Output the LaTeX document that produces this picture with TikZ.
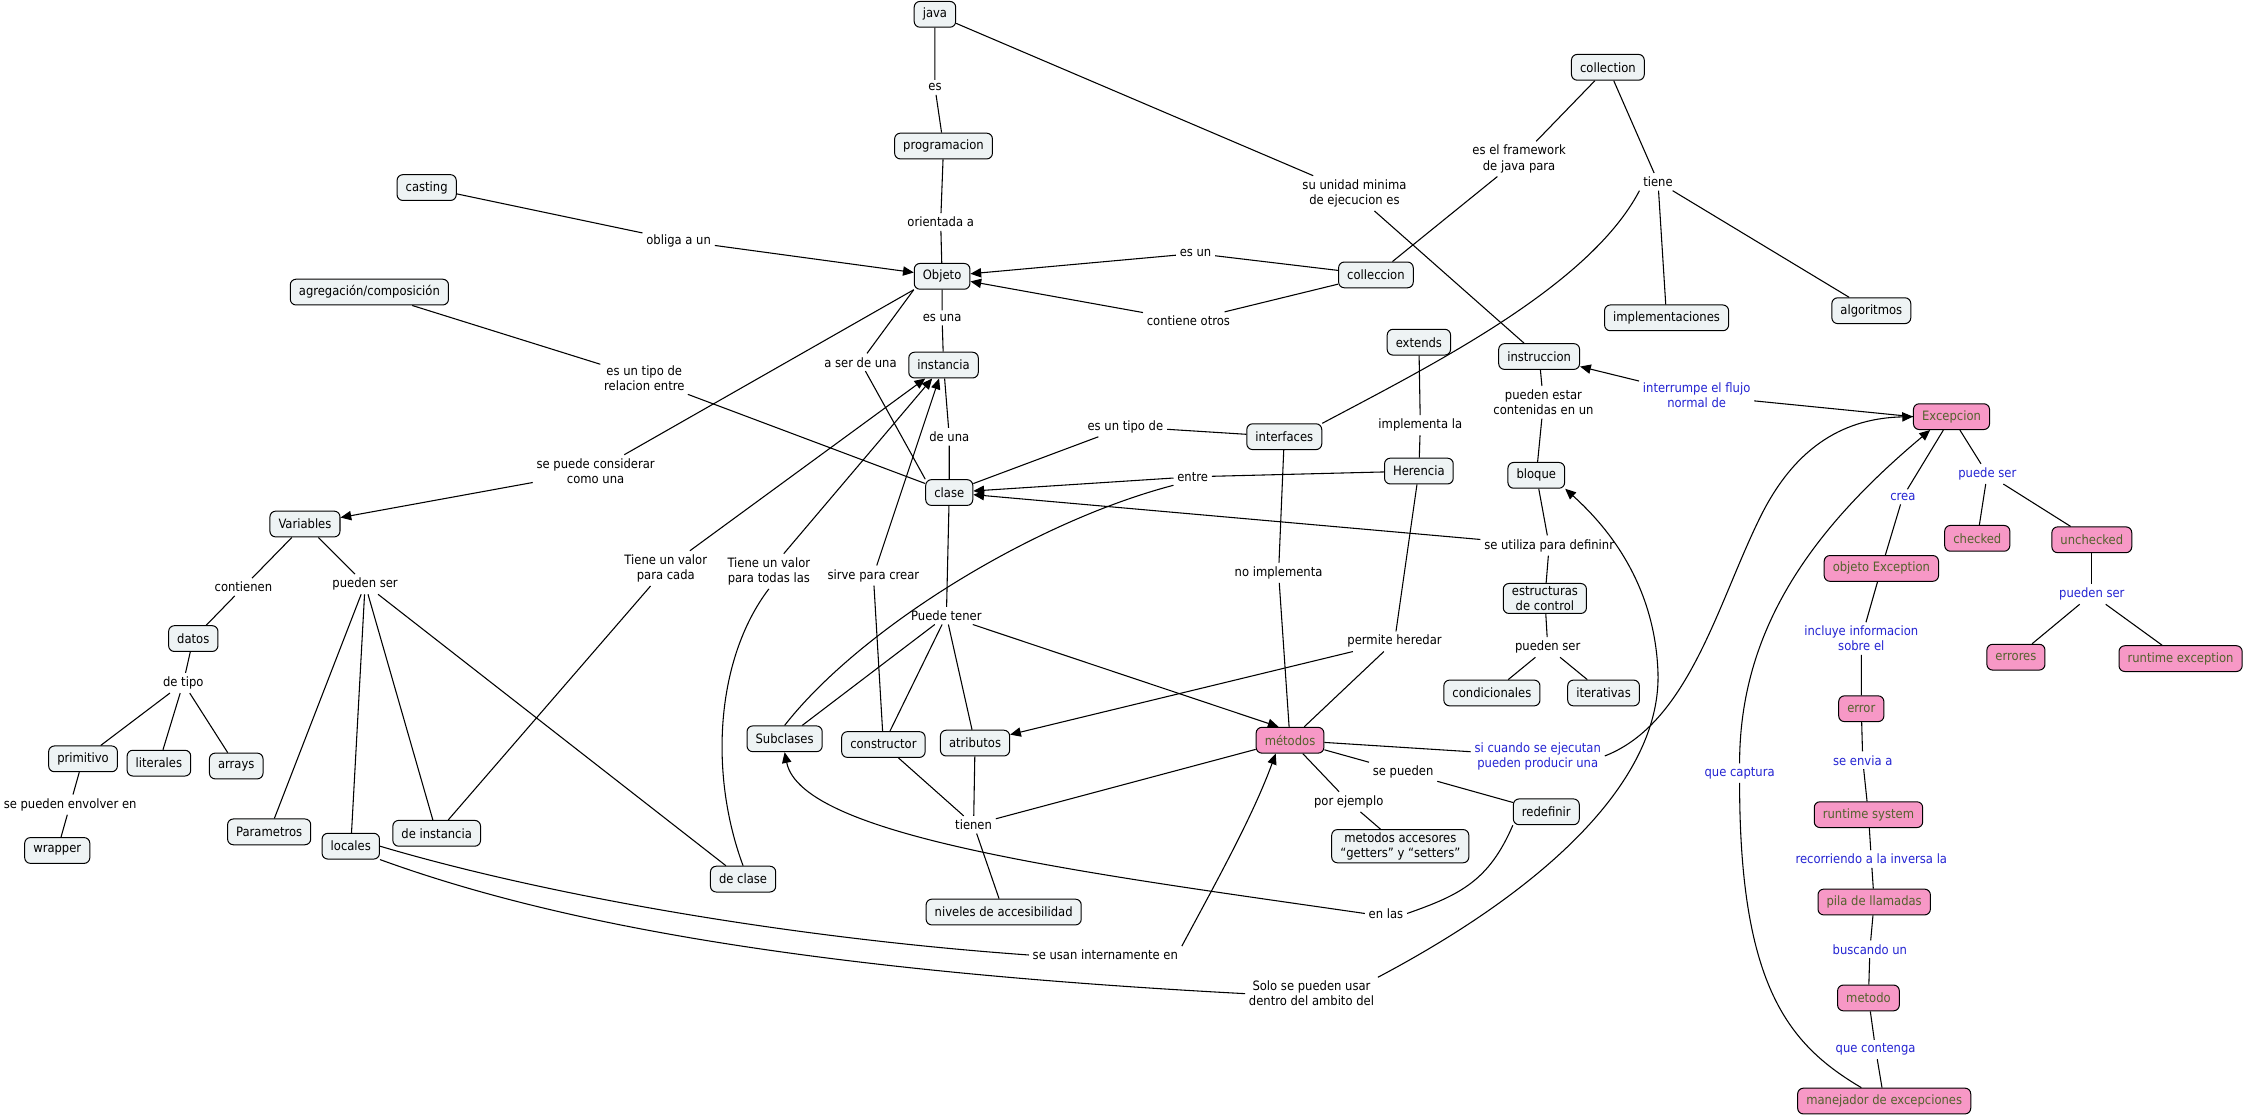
\documentclass[tikz,border=0pt]{standalone}
\usepackage{fontspec}
\setmainfont{DejaVu Sans Condensed}
\usetikzlibrary{arrows.meta}
\definecolor{cfill}{RGB}{238,243,244}
\definecolor{pfill}{RGB}{247,152,198}
\definecolor{ptext}{RGB}{84,98,46}
\definecolor{lblue}{RGB}{36,36,210}
\begin{document}
\begin{tikzpicture}[x=1pt,y=-1pt,
  font=\fontsize{9}{10.5}\selectfont,
  concept/.style={draw=black, line width=0.7pt, rounded corners=4pt, fill=cfill, inner xsep=6pt, inner ysep=2pt, minimum height=18pt, align=center},
  pconcept/.style={concept, fill=pfill, text=ptext},
  lp/.style={inner sep=2.5pt, align=center},
  lpb/.style={lp, text=lblue},
  conn/.style={draw=black, line width=0.75pt},
  arr/.style={conn, -{Triangle[length=7.5pt,width=6.5pt]}}]
\fill[white] (0,0) rectangle (1568,780);
\useasboundingbox (0,0) rectangle (1568,780);

% concepts
\node[concept] (java) at (653,10) {java};
\node[concept] (programacion) at (659,102) {programacion};
\node[concept] (casting) at (298,131) {casting};
\node[concept] (collection) at (1123,47) {collection};
\node[concept] (Objeto) at (658,193) {Objeto};
\node[concept] (colleccion) at (961,192) {colleccion};
\node[concept] (agregacion) at (258,204) {agregación/composición};
\node[concept] (implementaciones) at (1164,222) {implementaciones};
\node[concept] (algoritmos) at (1307,217) {algoritmos};
\node[concept] (extends) at (991,239) {extends};
\node[concept] (instruccion) at (1075,249) {instruccion};
\node[concept] (instancia) at (659,255) {instancia};
\node[concept] (interfaces) at (897,305) {interfaces};
\node[concept] (Herencia) at (991,329) {Herencia};
\node[concept] (bloque) at (1073,332) {bloque};
\node[concept] (clase) at (663,344) {clase};
\node[concept] (Variables) at (213,366) {Variables};
\node[concept] (estructuras) at (1079,418) {estructuras\\de control};
\node[concept] (condicionales) at (1042,484) {condicionales};
\node[concept] (iterativas) at (1120,484) {iterativas};
\node[concept] (datos) at (135,446) {datos};
\node[concept] (primitivo) at (58,530) {primitivo};
\node[concept] (literales) at (111,533) {literales};
\node[concept] (arrays) at (165,535) {arrays};
\node[concept] (Subclases) at (548,516) {Subclases};
\node[concept] (constructor) at (617,520) {constructor};
\node[concept] (atributos) at (681,519) {atributos};
\node[pconcept] (metodos) at (901,517) {métodos};
\node[concept] (wrapper) at (40,594) {wrapper};
\node[concept] (Parametros) at (188,581) {Parametros};
\node[concept] (locales) at (245,591) {locales};
\node[concept] (deinstancia) at (305,582) {de instancia};
\node[concept] (declase) at (519,614) {de clase};
\node[concept] (niveles) at (701,637) {niveles de accesibilidad};
\node[concept] (accesores) at (978,591) {metodos accesores\\“getters” y “setters”};
\node[concept] (redefinir) at (1080,567) {redefinir};
\node[pconcept] (Excepcion) at (1363,291) {Excepcion};
\node[pconcept] (checked) at (1381,376) {checked};
\node[pconcept] (unchecked) at (1461,377) {unchecked};
\node[pconcept] (objetoExc) at (1314,397) {objeto Exception};
\node[pconcept] (errores) at (1408,459) {errores};
\node[pconcept] (runtimeexc) at (1523,460) {runtime exception};
\node[pconcept] (error) at (1300,495) {error};
\node[pconcept] (runtime) at (1305,569) {runtime system};
\node[pconcept] (pila) at (1309,630) {pila de llamadas};
\node[pconcept] (metodo) at (1305,697) {metodo};
\node[pconcept] (manejador) at (1316,769) {manejador de excepciones};

% linking phrases
\node[lp] (l_es) at (653,61) {es};
\node[lp] (l_orient) at (657,155) {orientada a};
\node[lp] (l_obliga) at (474,168) {obliga a un};
\node[lp] (l_esun) at (835,177) {es un};
\node[lp] (l_contiene) at (830,224) {contiene otros};
\node[lp] (l_unidad) at (946,135) {su unidad minima\\de ejecucion es};
\node[lp] (l_frame) at (1061,111) {es el framework\\de java para};
\node[lp] (l_tiene) at (1158,127) {tiene};
\node[lp] (l_esuna) at (658,222) {es una};
\node[lp] (l_aser) at (601,253) {a ser de una};
\node[lp] (l_tiporel) at (450,264) {es un tipo de\\relacion entre};
\node[lp] (l_considerar) at (416,329) {se puede considerar\\como una};
\node[lp] (l_deuna) at (663,305) {de una};
\node[lp] (l_tipode) at (786,298) {es un tipo de};
\node[lp] (l_implementa) at (992,297) {implementa la};
\node[lp] (l_contenidas) at (1078,281) {pueden estar\\contenidas en un};
\node[lpb] (l_interrumpe) at (1185,276) {interrumpe el flujo\\normal de};
\node[lp] (l_entre) at (833,333) {entre};
\node[lp] (l_utiliza) at (1082,381) {se utiliza para defininr};
\node[lp] (l_noimpl) at (893,400) {no implementa};
\node[lp] (l_cada) at (465,397) {Tiene un valor\\para cada};
\node[lp] (l_todas) at (537,399) {Tiene un valor\\para todas las};
\node[lp] (l_sirve) at (610,402) {sirve para crear};
\node[lp] (l_contienen) at (170,410) {contienen};
\node[lp] (l_puedenser1) at (255,408) {pueden ser};
\node[lp] (l_puede) at (661,430) {Puede tener};
\node[lp] (l_hereda) at (974,448) {permite heredar};
\node[lp] (l_puedenser2) at (1081,452) {pueden ser};
\node[lp] (l_detipo) at (128,477) {de tipo};
\node[lpb] (l_puedeser) at (1388,331) {puede ser};
\node[lpb] (l_crea) at (1329,347) {crea};
\node[lpb] (l_incluye) at (1300,446) {incluye informacion\\sobre el};
\node[lpb] (l_puedenser3) at (1461,415) {pueden ser};
\node[lpb] (l_sicuando) at (1074,528) {si cuando se ejecutan\\pueden producir una};
\node[lp] (l_sepueden) at (980,539) {se pueden};
\node[lp] (l_ejemplo) at (942,560) {por ejemplo};
\node[lpb] (l_envia) at (1301,531) {se envia a};
\node[lpb] (l_captura) at (1215,540) {que captura};
\node[lp] (l_envolver) at (49,562) {se pueden envolver en};
\node[lp] (l_tienen) at (680,576) {tienen};
\node[lpb] (l_recorriendo) at (1307,600) {recorriendo a la inversa la};
\node[lp] (l_enlas) at (968,638) {en las};
\node[lpb] (l_buscando) at (1306,663) {buscando un};
\node[lp] (l_internamente) at (772,667) {se usan internamente en};
\node[lp] (l_ambito) at (916,694) {Solo se pueden usar\\dentro del ambito del};
\node[lpb] (l_contenga) at (1310,733) {que contenga};

% connectors
\draw[conn] (java) -- (l_es) -- (programacion);
\draw[conn] (programacion) -- (l_orient) -- (Objeto);
\draw[conn] (casting) -- (l_obliga);
\draw[arr] (l_obliga) -- (Objeto);
\draw[conn] (colleccion) -- (l_esun);
\draw[arr] (l_esun) -- (Objeto);
\draw[conn] (colleccion) -- (l_contiene);
\draw[arr] (l_contiene) -- (Objeto);
\draw[conn] (java) -- (l_unidad) -- (instruccion);
\draw[conn] (collection) -- (l_frame) -- (colleccion);
\draw[conn] (collection) -- (l_tiene);
\draw[conn] (l_tiene) -- (implementaciones);
\draw[conn] (l_tiene) -- (algoritmos);
\draw[conn] (l_tiene.south west) .. controls (1110,200) and (1000,255) .. (interfaces.north east);
\draw[conn] (Objeto) -- (l_esuna) -- (instancia);
\draw[conn] (Objeto.south west) -- (l_aser) -- (clase.north west);
\draw[conn] (Objeto.south west) -- (l_considerar);
\draw[arr] (l_considerar) -- (Variables);
\draw[conn] (agregacion) -- (l_tiporel) -- (clase);
\draw[conn] (instancia) -- (l_deuna) -- (clase);
\draw[conn] (interfaces) -- (l_tipode) -- (clase);
\draw[conn] (Herencia) -- (l_entre);
\draw[arr] (l_entre) -- (clase);
\draw[conn] (l_entre.south west) .. controls (720,365) and (600,440) .. (Subclases.north);
\draw[conn] (extends) -- (l_implementa) -- (Herencia);
\draw[conn] (instruccion) -- (l_contenidas) -- (bloque);
\draw[conn] (Excepcion.west) -- (l_interrumpe);
\draw[arr] (l_interrumpe) -- (instruccion);
\draw[conn] (bloque) -- (l_utiliza) -- (estructuras);
\draw[arr] (l_utiliza) -- (clase);
\draw[conn] (interfaces) -- (l_noimpl) -- (metodos);
\draw[conn] (Herencia) -- (l_hereda) -- (metodos);
\draw[arr] (l_hereda) -- (atributos);
\draw[conn] (clase) -- (l_puede);
\draw[conn] (l_puede) -- (Subclases);
\draw[conn] (l_puede) -- (constructor);
\draw[conn] (l_puede) -- (atributos);
\draw[arr] (l_puede) -- ([xshift=-8pt]metodos.north);
\draw[conn] (deinstancia) -- (l_cada);
\draw[arr] (l_cada) -- (instancia);
\draw[conn] (declase.north) .. controls (495,540) and (500,460) .. (l_todas.south);
\draw[arr] (l_todas) -- (instancia);
\draw[conn] (constructor) -- (l_sirve);
\draw[arr] (l_sirve) -- (instancia);
\draw[conn] (Variables) -- (l_contienen) -- (datos);
\draw[conn] (datos) -- (l_detipo);
\draw[conn] (l_detipo) -- (primitivo);
\draw[conn] (l_detipo) -- (literales);
\draw[conn] (l_detipo) -- (arrays);
\draw[conn] (primitivo) -- (l_envolver) -- (wrapper);
\draw[conn] (Variables) -- (l_puedenser1);
\draw[conn] (l_puedenser1) -- (Parametros);
\draw[conn] (l_puedenser1) -- (locales);
\draw[conn] (l_puedenser1) -- (deinstancia);
\draw[conn] (l_puedenser1) -- (declase);
\draw[conn] (locales.east) .. controls (380,625) and (550,655) .. (l_internamente.west);
\draw[arr] (l_internamente.north east) .. controls (850,615) and (875,570) .. ([xshift=14pt]metodos.south west);
\draw[conn] (locales.south east) .. controls (380,642) and (550,677) .. (l_ambito.west);
\draw[arr] (l_ambito.north east) .. controls (1090,615) and (1160,540) .. (1158,470) .. controls (1156,410) and (1125,370) .. (bloque.south east);
\draw[conn] (constructor) -- (l_tienen);
\draw[conn] (atributos) -- (l_tienen);
\draw[conn] (metodos) -- (l_tienen);
\draw[conn] (l_tienen) -- (niveles);
\draw[conn] (metodos) -- (l_sepueden) -- (redefinir);
\draw[conn] (redefinir.south west) .. controls (1040,615) and (1020,625) .. (l_enlas.east);
\draw[arr] (l_enlas.west) .. controls (760,610) and (560,585) .. (Subclases.south);
\draw[conn] (metodos) -- (l_ejemplo) -- (accesores);
\draw[conn] (metodos) -- (l_sicuando);
\draw[arr] (l_sicuando.east) .. controls (1180,505) and (1200,420) .. (1230,360) .. controls (1255,310) and (1290,292) .. (Excepcion.west);
\draw[conn] (Excepcion) -- (l_puedeser);
\draw[conn] (l_puedeser) -- (checked);
\draw[conn] (l_puedeser) -- (unchecked);
\draw[conn] (Excepcion) -- (l_crea) -- (objetoExc);
\draw[conn] (objetoExc) -- (l_incluye) -- (error);
\draw[conn] (error) -- (l_envia) -- (runtime);
\draw[conn] (runtime) -- (l_recorriendo) -- (pila);
\draw[conn] (pila) -- (l_buscando) -- (metodo);
\draw[conn] (metodo) -- (l_contenga) -- (manejador);
\draw[conn] ([xshift=-16pt]manejador.north) .. controls (1250,730) and (1215,690) .. (l_captura.south);
\draw[arr] (l_captura.north) .. controls (1215,440) and (1265,370) .. ([xshift=12pt]Excepcion.south west);
\draw[conn] (unchecked) -- (l_puedenser3);
\draw[conn] (l_puedenser3) -- (errores);
\draw[conn] (l_puedenser3) -- (runtimeexc);
\draw[conn] (estructuras) -- (l_puedenser2);
\draw[conn] (l_puedenser2) -- (condicionales);
\draw[conn] (l_puedenser2) -- (iterativas);
\end{tikzpicture}
\end{document}
